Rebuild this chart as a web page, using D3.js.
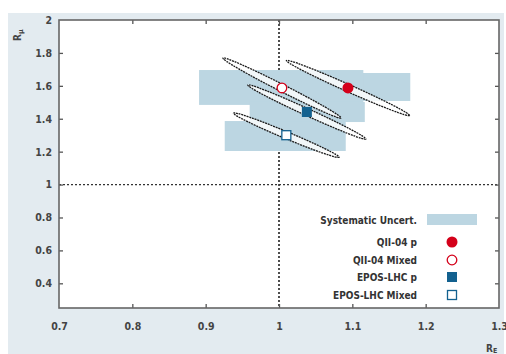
<!DOCTYPE html>
<html><head><meta charset="utf-8">
<script src="https://cdn.jsdelivr.net/npm/d3@7"></script>
<style>
html,body{margin:0;padding:0;background:#fff;}
text{font-family:"DejaVu Sans Condensed","DejaVu Sans",sans-serif;}
</style></head>
<body>
<svg id="c" width="506" height="354"></svg>
<script>
// ---- data ----
const xTicks = [0.7, 0.8, 0.9, 1.0, 1.1, 1.2, 1.3];
const yTicks = [0.4, 0.6, 0.8, 1, 1.2, 1.4, 1.6, 1.8, 2];
const seriesNames = ["QII-04 p", "QII-04 Mixed", "EPOS-LHC p", "EPOS-LHC Mixed"];
const rE  = [1.094, 1.004, 1.038, 1.010];
const rMu = [1.587, 1.587, 1.441, 1.300];
// systematic uncertainty boxes
const sysXmin = [1.010, 0.891, 0.960, 0.926];
const sysXmax = [1.179, 1.115, 1.117, 1.091];
const sysYmin = [1.508, 1.484, 1.380, 1.204];
const sysYmax = [1.678, 1.696, 1.502, 1.386];
// statistical ellipses: half major axis (dx, dy) in data units, minor/major ratio
const ellDx = [0.084, 0.0805, 0.0805, 0.072];
const ellDy = [-0.167, -0.182, -0.164, -0.134];
const ellRatio = [0.045, 0.045, 0.045, 0.05];
const legendLabels = ["Systematic Uncert.", "QII-04 p", "QII-04 Mixed", "EPOS-LHC p", "EPOS-LHC Mixed"];

// ---- style ----
const RED = "#d4001a", BLUE = "#13618f", BOX = "#bcd6e2", PANEL = "#e3ebf0";
const svg = d3.select("#c");
const M = {l: 59, r: 499, t: 20, b: 308};
const x = d3.scaleLinear().domain([0.7, 1.3]).range([M.l, M.r]);
const y = d3.scaleLinear().domain([0.25, 2]).range([M.b, M.t]);

svg.append("rect").attr("x", 8).attr("y", 13).attr("width", 496).attr("height", 341).attr("fill", PANEL);
svg.append("rect").attr("x", M.l).attr("y", M.t).attr("width", M.r - M.l).attr("height", M.b - M.t).attr("fill", "#fff");

// reference dotted lines
svg.append("line").attr("x1", x(1)).attr("x2", x(1)).attr("y1", M.t).attr("y2", M.b)
  .attr("stroke", "#222").attr("stroke-width", 1.6).attr("stroke-dasharray", "2,2");
svg.append("line").attr("x1", M.l).attr("x2", M.r).attr("y1", y(1)).attr("y2", y(1))
  .attr("stroke", "#333").attr("stroke-width", 1.3).attr("stroke-dasharray", "2,2");

// systematic boxes
const idx = d3.range(seriesNames.length);
svg.append("g").selectAll("rect").data(idx).join("rect")
  .attr("x", i => x(sysXmin[i])).attr("width", i => x(sysXmax[i]) - x(sysXmin[i]))
  .attr("y", i => y(sysYmax[i])).attr("height", i => y(sysYmin[i]) - y(sysYmax[i]))
  .attr("fill", BOX);

// ellipses
const gE = svg.append("g");
idx.forEach(i => {
  const cx = x(rE[i]), cy = y(rMu[i]);
  const px = x(rE[i] + ellDx[i]) - cx, py = y(rMu[i] + ellDy[i]) - cy;
  const a = Math.hypot(px, py), ang = Math.atan2(py, px) * 180 / Math.PI;
  gE.append("ellipse").attr("cx", 0).attr("cy", 0).attr("rx", a).attr("ry", a * ellRatio[i] + 0.6)
    .attr("transform", `translate(${cx},${cy}) rotate(${ang})`)
    .attr("fill", "rgba(255,255,255,0.8)").attr("stroke", "#1a1a1a").attr("stroke-width", 1.3)
    .attr("stroke-dasharray", "2,0.8");
});

// markers
function marker(g, i, cx, cy) {
  if (i === 0) g.append("circle").attr("cx", cx).attr("cy", cy).attr("r", 5.5).attr("fill", RED);
  if (i === 1) g.append("circle").attr("cx", cx).attr("cy", cy).attr("r", 4.8).attr("fill", "#fff").attr("stroke", RED).attr("stroke-width", 1.3);
  if (i === 2) g.append("rect").attr("x", cx - 5).attr("y", cy - 5).attr("width", 10).attr("height", 10).attr("fill", BLUE);
  if (i === 3) g.append("rect").attr("x", cx - 4.5).attr("y", cy - 4.5).attr("width", 9).attr("height", 9).attr("fill", "#fff").attr("stroke", BLUE).attr("stroke-width", 1.3);
}
const gM = svg.append("g");
idx.forEach(i => marker(gM, i, x(rE[i]), y(rMu[i])));

// axes
const tickFmt = d => (d === 1 || d === 2) ? String(d) : d3.format(".1f")(d);
const axStyle = g => {
  g.select(".domain").remove();
  g.selectAll(".tick line").attr("stroke", "#555").attr("stroke-width", 1.3);
  g.selectAll("text").attr("fill", "#444").attr("font-size", 10.5).attr("font-weight", "bold");
};
const inner = [0.8, 0.9, 1.0, 1.1, 1.2];
const innerY = [0.4, 0.6, 0.8, 1, 1.2, 1.4, 1.6, 1.8];
svg.append("g").attr("transform", `translate(0,${M.b})`)
  .call(d3.axisBottom(x).tickValues(xTicks).tickFormat(tickFmt).tickSizeInner(0).tickPadding(15)).call(axStyle);
svg.append("g").attr("transform", `translate(0,${M.b})`)
  .call(d3.axisBottom(x).tickValues(inner).tickFormat("").tickSizeInner(-4)).call(axStyle);
svg.append("g").attr("transform", `translate(0,${M.t})`)
  .call(d3.axisTop(x).tickValues(inner).tickFormat("").tickSizeInner(-4)).call(axStyle);
svg.append("g").attr("transform", `translate(${M.l},0)`)
  .call(d3.axisLeft(y).tickValues(yTicks).tickFormat(tickFmt).tickSizeInner(0).tickPadding(7)).call(axStyle);
svg.append("g").attr("transform", `translate(${M.l},0)`)
  .call(d3.axisLeft(y).tickValues(innerY).tickFormat("").tickSizeInner(-4)).call(axStyle);
svg.append("g").attr("transform", `translate(${M.r},0)`)
  .call(d3.axisRight(y).tickValues(innerY).tickFormat("").tickSizeInner(-4)).call(axStyle);

// frame
svg.append("rect").attr("x", M.l).attr("y", M.t).attr("width", M.r - M.l).attr("height", M.b - M.t)
  .attr("fill", "none").attr("stroke", "#666").attr("stroke-width", 1.6);

// axis titles
const yt = svg.append("text").attr("transform", "translate(21,41) rotate(-90)")
  .attr("font-size", 10).attr("font-weight", "bold").attr("fill", "#444");
yt.append("tspan").text("R");
yt.append("tspan").attr("font-size", 7).attr("dy", 2).text("μ");
const xt = svg.append("text").attr("x", 486).attr("y", 352)
  .attr("font-size", 10).attr("font-weight", "bold").attr("fill", "#444");
xt.append("tspan").text("R");
xt.append("tspan").attr("font-size", 7).attr("dy", 1).text("E");

// legend
const lg = svg.append("g");
const rowY = [220, 242, 260, 277, 295];
legendLabels.forEach((t, k) => {
  lg.append("text").attr("x", 417).attr("y", rowY[k]).attr("dy", "0.35em").attr("text-anchor", "end")
    .attr("font-size", 10).attr("font-weight", "bold").attr("fill", "#333").text(t);
  if (k === 0) lg.append("rect").attr("x", 427).attr("y", rowY[k] - 6).attr("width", 50).attr("height", 11).attr("fill", BOX);
  else marker(lg, k - 1, 452, rowY[k]);
});
</script>
</body></html>
